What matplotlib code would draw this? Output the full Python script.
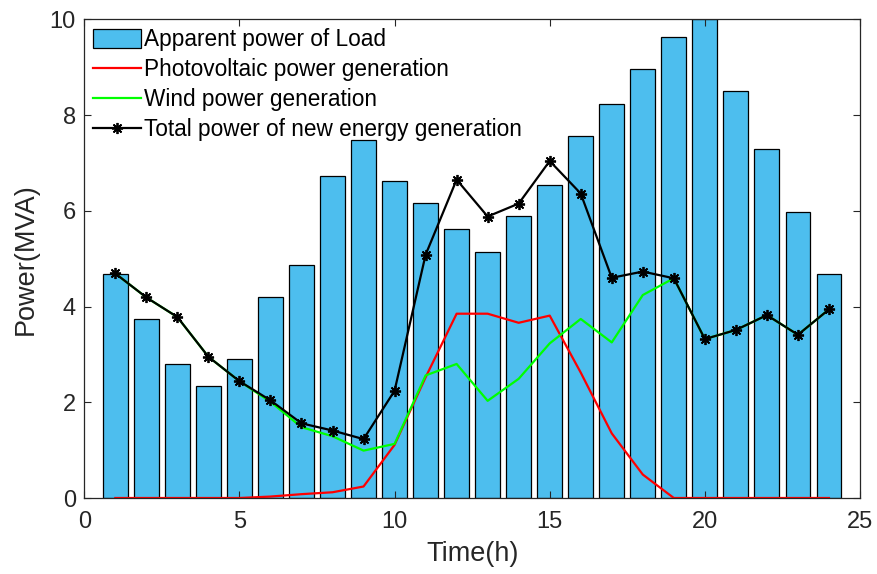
import matplotlib
matplotlib.use('Agg')
import matplotlib.pyplot as plt
import numpy as np

plt.rcParams['font.family'] = ['Liberation Sans', 'DejaVu Sans']

# ============ ДАННЫЕ ============
hours = list(range(1, 25))
load = [4.68, 3.74, 2.80, 2.34, 2.91, 4.20, 4.86, 6.72, 7.47, 6.63, 6.17, 5.61,
        5.13, 5.89, 6.54, 7.57, 8.22, 8.97, 9.62, 10.0, 8.51, 7.29, 5.98, 4.67]
pv = [0, 0, 0, 0, 0, 0.03, 0.08, 0.12, 0.24, 1.11, 2.52, 3.85,
      3.85, 3.66, 3.81, 2.62, 1.35, 0.49, 0, 0, 0, 0, 0, 0]
wind = [4.69, 4.19, 3.78, 2.95, 2.44, 2.01, 1.48, 1.29, 0.99, 1.13, 2.56, 2.80,
        2.03, 2.49, 3.23, 3.74, 3.25, 4.24, 4.59, 3.32, 3.51, 3.82, 3.41, 3.94]
total = [p + w for p, w in zip(pv, wind)]

labels = ['Apparent power of Load', 'Photovoltaic power generation',
          'Wind power generation', 'Total power of new energy generation']

# ============ ГРАФИК ============
fig = plt.figure(figsize=(8.77, 5.74), dpi=100)
ax = fig.add_axes([0.0961, 0.1324, 0.8845, 0.834])

bars = ax.bar(hours, load, width=0.8, color='#4DBEEE', edgecolor='black',
              linewidth=0.9)
l_pv, = ax.plot(hours, pv, color='#FF0000', linewidth=1.6)
l_wind, = ax.plot(hours, wind, color='#00FF00', linewidth=1.6)
l_tot, = ax.plot(hours, total, color='black', linewidth=1.6, marker=(8, 2, 0),
                 markersize=8, markeredgewidth=1.3)

ax.set_xlim(0, 25)
ax.set_ylim(0, 10)
ax.set_xticks(np.arange(0, 26, 5))
ax.set_yticks(np.arange(0, 11, 2))
ax.tick_params(direction='in', top=True, right=True, labelsize=17, length=5,
               color='#262626', labelcolor='#262626')
ax.tick_params(axis='x', pad=9)
ax.tick_params(axis='y', pad=6)
for s in ax.spines.values():
    s.set_color('#262626')
    s.set_linewidth(0.9)

ax.set_xlabel('Time(h)', fontsize=19.5, color='#262626', labelpad=6)
ax.set_ylabel('Power(MVA)', fontsize=19.5, color='#262626', labelpad=8)

ax.legend([bars, l_pv, l_wind, l_tot], labels, loc='upper left', frameon=False,
          fontsize=16.3, handlelength=2.1, handleheight=0.9, handletextpad=0.13,
          labelspacing=0.31, borderaxespad=0.0, borderpad=0.4)

fig.savefig('out.png', dpi=100)
